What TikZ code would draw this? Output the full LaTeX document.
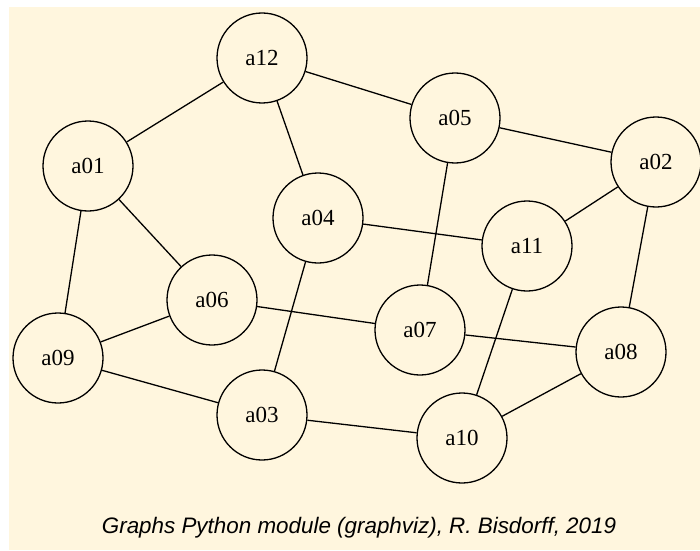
\documentclass[tikz,border=0pt]{standalone}
\usepackage{fontspec}
\setmainfont{Liberation Serif}
\setsansfont{Liberation Sans}
\definecolor{bgcream}{RGB}{255,246,222}
\begin{document}
\begin{tikzpicture}[x=1pt,y=1pt,
  vert/.style={circle,draw=black,line width=1.3pt,minimum size=90pt,inner sep=0pt,font=\fontsize{23}{25}\selectfont},
  edge/.style={line width=1.3pt}]
\useasboundingbox (0,0) rectangle (700,550);
\fill[bgcream] (9,0) rectangle (700,543);
\node[vert] (a12) at (262,492) {a12};
\node[vert] (a05) at (455,432) {a05};
\node[vert] (a02) at (656,388) {a02};
\node[vert] (a01) at (88,384) {a01};
\node[vert] (a04) at (318,332) {a04};
\node[vert] (a11) at (527,304) {a11};
\node[vert] (a06) at (212,250) {a06};
\node[vert] (a07) at (420,220) {a07};
\node[vert] (a08) at (621,198) {a08};
\node[vert] (a09) at (58,192) {a09};
\node[vert] (a03) at (262,135) {a03};
\node[vert] (a10) at (462,112) {a10};
\draw[edge] (a12)--(a01);
\draw[edge] (a12)--(a05);
\draw[edge] (a12)--(a04);
\draw[edge] (a05)--(a02);
\draw[edge] (a05)--(a07);
\draw[edge] (a02)--(a11);
\draw[edge] (a02)--(a08);
\draw[edge] (a01)--(a09);
\draw[edge] (a01)--(a06);
\draw[edge] (a04)--(a11);
\draw[edge] (a04)--(a03);
\draw[edge] (a06)--(a09);
\draw[edge] (a06)--(a07);
\draw[edge] (a11)--(a10);
\draw[edge] (a07)--(a08);
\draw[edge] (a09)--(a03);
\draw[edge] (a03)--(a10);
\draw[edge] (a10)--(a08);
\node[font=\sffamily\itshape\fontsize{22.4}{25}\selectfont,anchor=base,inner sep=0pt] (cap) at (359,16.5) {Graphs Python module (graphviz), R. Bisdorff, 2019};
\end{tikzpicture}
\end{document}
